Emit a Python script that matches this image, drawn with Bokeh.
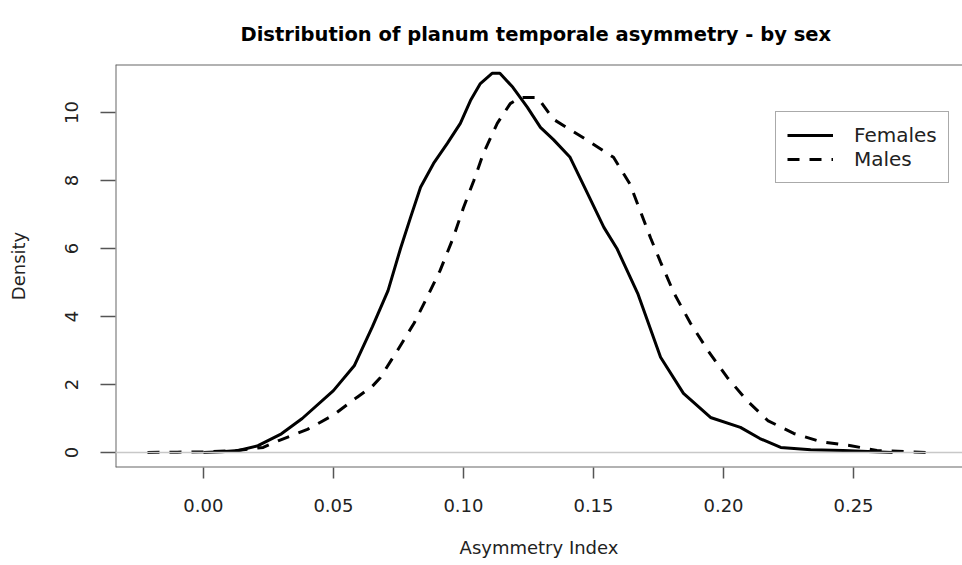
from bokeh.plotting import figure
from bokeh.models import Range1d, FixedTicker, Span, Legend, LegendItem, NumeralTickFormatter
from bokeh.embed import file_html
from bokeh.resources import INLINE

# ---- data ----
female_x = [0.000, 0.007, 0.0135, 0.021, 0.030, 0.038, 0.050, 0.058, 0.065, 0.071, 0.0758,
            0.0796, 0.0835, 0.0885, 0.0938, 0.0988, 0.1027, 0.1065, 0.111, 0.114, 0.119,
            0.1246, 0.1296, 0.1346, 0.141, 0.1477, 0.154, 0.159, 0.167, 0.1758, 0.1846,
            0.195, 0.2065, 0.214, 0.222, 0.2335, 0.246, 0.265]
female_y = [0.0, 0.02, 0.06, 0.2, 0.55, 1.0, 1.82, 2.55, 3.7, 4.76, 6.0,
            6.9, 7.8, 8.5, 9.09, 9.68, 10.35, 10.85, 11.15, 11.15, 10.74,
            10.15, 9.56, 9.2, 8.68, 7.62, 6.62, 6.0, 4.68, 2.8, 1.74,
            1.03, 0.74, 0.41, 0.15, 0.08, 0.06, 0.0]

male_x = [-0.0215, -0.010, 0.000, 0.012, 0.023, 0.029, 0.040, 0.050, 0.059, 0.065, 0.068,
          0.0746, 0.081, 0.086, 0.091, 0.096, 0.100, 0.104, 0.1077, 0.113, 0.118, 0.122,
          0.1285, 0.1346, 0.1477, 0.1577, 0.164, 0.168, 0.172, 0.1758, 0.181, 0.1873,
          0.194, 0.2015, 0.209, 0.217, 0.227, 0.2373, 0.249, 0.259, 0.2785]
male_y = [0.0, 0.01, 0.02, 0.05, 0.15, 0.35, 0.68, 1.1, 1.62, 1.95, 2.2,
          3.0, 3.8, 4.56, 5.35, 6.3, 7.2, 8.0, 8.8, 9.68, 10.26, 10.44,
          10.44, 9.8, 9.18, 8.68, 7.9, 7.1, 6.3, 5.6, 4.68, 3.8,
          3.0, 2.2, 1.53, 0.94, 0.56, 0.32, 0.2, 0.06, 0.0]

x_ticks = [0.0, 0.05, 0.10, 0.15, 0.20, 0.25]
y_ticks = [0, 2, 4, 6, 8, 10]
series_names = ["Females", "Males"]
title_text = "Distribution of planum temporale asymmetry - by sex"
x_label = "Asymmetry Index"
y_label = "Density"

FONT = "DejaVu Sans"
AX = "#555555"
X0, X1 = -0.0338, 0.2919
Y0, Y1 = -0.441, 11.41

p = figure(width=962, height=565, output_backend="svg", toolbar_location=None,
           x_range=Range1d(X0, X1), y_range=Range1d(Y0, Y1),
           min_border_left=115, min_border_right=0, min_border_top=64, min_border_bottom=98,
           background_fill_color="white", border_fill_color="white")

p.title.text = title_text
p.title.align = "left"
p.title.offset = 125
p.title.standoff = 38
p.title.text_font = FONT
p.title.text_font_size = "19.5px"
p.title.text_font_style = "bold"
p.title.text_color = "black"

p.xgrid.visible = False
p.ygrid.visible = False
p.outline_line_color = None

# plot box (right side lies beyond the window in the reference)
for loc, dim in ((Y1, "width"), (Y0, "width"), (X0, "height")):
    p.add_layout(Span(location=loc, dimension=dim, line_color="#666666", line_width=2))

zero = Span(location=0, dimension="width", line_color="#c8c8c8", line_width=1.5)
p.add_layout(zero)

r_f = p.line(female_x, female_y, line_color="black", line_width=3, line_join="round")
r_m = p.line(male_x, male_y, line_color="black", line_width=3, line_dash="12 10")

for ax in (p.xaxis[0], p.yaxis[0]):
    ax.axis_line_color = None
    ax.major_tick_line_color = AX
    ax.major_tick_line_width = 1.5
    ax.major_tick_in = 0
    ax.minor_tick_line_color = None
    ax.major_label_text_font = FONT
    ax.major_label_text_font_size = "18px"
    ax.major_label_text_color = "#222222"
    ax.axis_label_text_font = FONT
    ax.axis_label_text_font_size = "18px"
    ax.axis_label_text_font_style = "normal"
    ax.axis_label_text_color = "#222222"

p.xaxis.ticker = FixedTicker(ticks=x_ticks)
p.xaxis.formatter = NumeralTickFormatter(format="0.00")
p.xaxis.major_tick_out = 11
p.xaxis.major_label_standoff = 20
p.xaxis.axis_label = x_label
p.xaxis.axis_label_standoff = 22

p.yaxis.ticker = FixedTicker(ticks=y_ticks)
p.yaxis.major_tick_out = 15
p.yaxis.major_label_orientation = "vertical"
p.yaxis.major_label_standoff = 22
p.yaxis.axis_label = y_label
p.yaxis.axis_label_standoff = 34

legend = Legend(items=[LegendItem(label=series_names[0], renderers=[r_f]),
                       LegendItem(label=series_names[1], renderers=[r_m])],
                location=(660, 284))
legend.border_line_color = "#555555"
legend.border_line_width = 1.5
legend.padding = 11
legend.margin = 0
legend.spacing = 0
legend.glyph_width = 46
legend.glyph_height = 24
legend.label_height = 24
legend.label_standoff = 21
legend.label_text_font = FONT
legend.label_text_font_size = "20px"
legend.label_text_color = "#222222"
legend.background_fill_alpha = 1
p.add_layout(legend)

open("out.html", "w").write(file_html(p, INLINE))
